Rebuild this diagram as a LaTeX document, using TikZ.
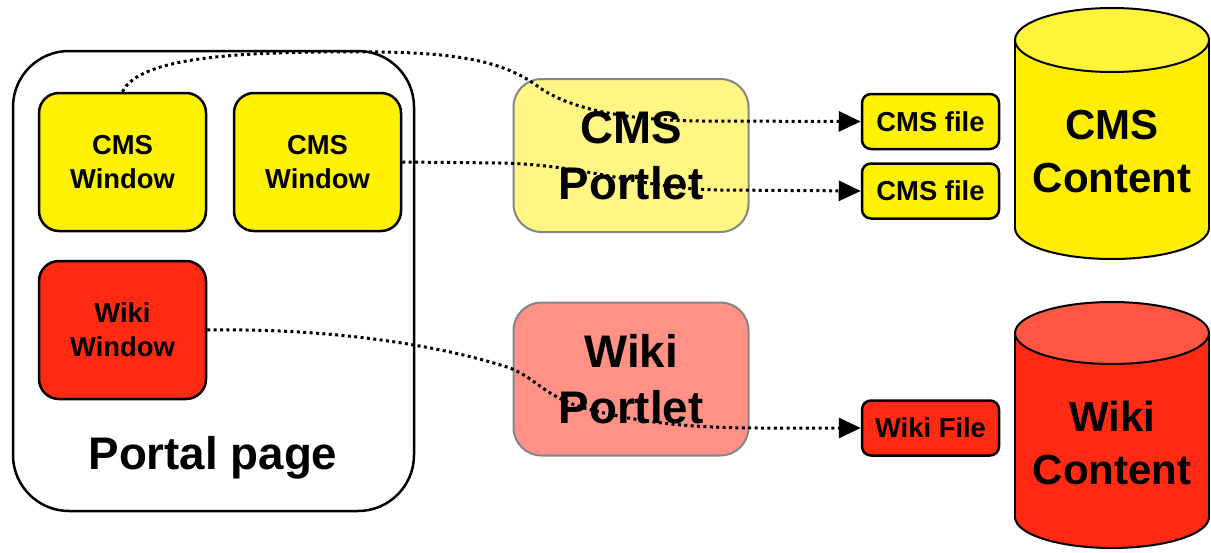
\documentclass[tikz,border=0pt]{standalone}
\usepackage{fontspec}
\setmainfont{Liberation Sans}
\usetikzlibrary{arrows.meta}
\definecolor{winyellow}{HTML}{FFF200}
\definecolor{winred}{HTML}{FF2A12}
\definecolor{portyellow}{HTML}{FFF683}
\definecolor{portred}{HTML}{FF9187}
\definecolor{portborder}{HTML}{858585}
\definecolor{cylyellow}{HTML}{FFEE00}
\definecolor{cylyellowtop}{HTML}{FFF43A}
\definecolor{cylred}{HTML}{FF2A14}
\definecolor{cylredtop}{HTML}{FF5642}
\begin{document}
\begin{tikzpicture}[x=1pt,y=-1pt,
  smallfont/.style={font=\fontsize{27.4}{34}\selectfont\bfseries},
  win/.style={draw=black, line width=2.5pt, rounded corners=20pt, minimum width=167pt, minimum height=138pt, inner sep=0pt, align=center, smallfont},
  portlet/.style={draw=portborder, line width=2pt, rounded corners=28pt, minimum width=235pt, minimum height=153pt, inner sep=0pt, align=center, font=\fontsize{45.7}{56}\selectfont\bfseries},
  filebox/.style={draw=black, line width=2.5pt, rounded corners=9pt, minimum width=137pt, minimum height=55pt, inner sep=0pt, smallfont},
  conn/.style={line width=3pt, dash pattern=on 3pt off 3.4pt, -{Triangle[length=22pt,width=20pt]}},
  cyl/.style={line width=2pt, draw=black}]
\useasboundingbox (0,0) rectangle (1211,552);

% Portal page frame
\draw[line width=2.5pt, rounded corners=56pt] (13,51) rectangle (414,511);
\node[font=\fontsize{45.7}{56}\selectfont\bfseries] (portal) at (213,458) {Portal page};

% windows
\node[win, fill=winyellow] (w1) at (122.5,162) {CMS\\Window};
\node[win, fill=winyellow] (w2) at (317.5,162) {CMS\\Window};
\node[win, fill=winred] (ww) at (122.5,330) {Wiki\\Window};

% portlets
\node[portlet, fill=portyellow] (cp) at (631,155.5) {CMS\\Portlet};
\node[portlet, fill=portred] (wp) at (631,379) {Wiki\\Portlet};

% files
\node[filebox, fill=winyellow] (f1) at (930.5,121.5) {CMS file};
\node[filebox, fill=winyellow] (f2) at (930.5,191) {CMS file};
\node[filebox, fill=winred] (wf) at (930.5,428) {Wiki File};

% connectors
\draw[conn] (w1.north) .. controls (140,55) and (250,51) .. (380,52)
  .. controls (470,53) and (510,65) .. (540,88)
  .. controls (570,108) and (620,120) .. (700,121) -- (f1.west);
\draw[conn] (w2.east) -- (500,163)
  .. controls (590,165) and (640,189) .. (720,190) -- (f2.west);
\draw[conn] (ww.east) .. controls (330,328) and (440,345) .. (510,368)
  .. controls (540,380) and (545,400) .. (600,412)
  .. controls (650,424) and (700,428) .. (760,428) -- (wf.west);

% CMS Content cylinder
\fill[cylyellow, draw=black, line width=2pt] (1112,228) ellipse [x radius=97pt, y radius=31pt];
\fill[cylyellow] (1015,40) rectangle (1209,228);
\draw[cyl] (1015,40) -- (1015,228) (1209,40) -- (1209,228);
\fill[cylyellowtop, draw=black, line width=2pt] (1112,40) ellipse [x radius=97pt, y radius=32pt];
\node[align=center, font=\fontsize{42}{53}\selectfont\bfseries] (cc) at (1112,152) {CMS\\Content};

% Wiki Content cylinder
\fill[cylred, draw=black, line width=2pt] (1112,517) ellipse [x radius=97pt, y radius=31pt];
\fill[cylred] (1015,333) rectangle (1209,517);
\draw[cyl] (1015,333) -- (1015,517) (1209,333) -- (1209,517);
\fill[cylredtop, draw=black, line width=2pt] (1112,333) ellipse [x radius=97pt, y radius=31pt];
\node[align=center, font=\fontsize{42}{53}\selectfont\bfseries] (wc) at (1112,443) {Wiki\\Content};
\end{tikzpicture}
\end{document}
